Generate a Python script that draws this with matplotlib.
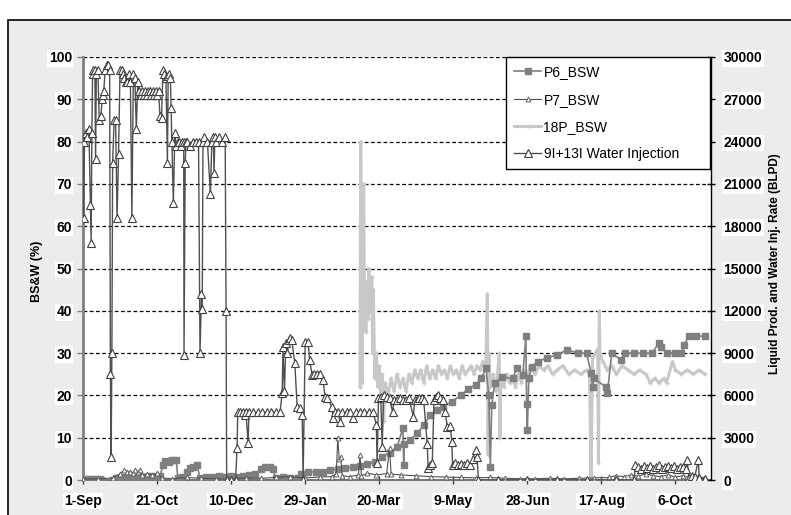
import numpy as np
import pandas as pd
import matplotlib
matplotlib.use("Agg")
import matplotlib.pyplot as plt
from matplotlib.patches import Rectangle
from matplotlib.ticker import FuncFormatter

plt.rcParams['font.family'] = ['Liberation Sans', 'DejaVu Sans']
plt.rcParams['font.weight'] = 'bold'

# Data (day offsets from 1-Sep)
start = pd.Timestamp('2008-09-01')
tick_days = [0, 50, 100, 150, 200, 250, 300, 350, 400]

p6_day = [0, 3, 6, 9, 11.5, 12, 20, 22, 26, 30, 34, 38, 42, 46, 50, 52, 54, 55.5, 58, 60, 63, 64,
          67, 70, 72, 74, 77, 79, 83, 88, 92, 96, 100, 104, 108, 112, 116, 120, 123, 126, 128, 130,
          135, 140, 145, 147, 152, 157, 162, 167, 172, 177, 182, 187, 192, 197, 202, 207, 212, 216,
          216.5, 217, 221, 225.7, 230, 234.5, 239, 243, 249, 255, 260, 265, 269, 272, 274, 275, 276,
          278, 283, 290, 293, 297, 299, 299.5, 300, 301, 303, 307, 313, 320, 327, 334, 340, 343, 344,
          345, 353, 354, 357, 363, 366, 372, 378, 384, 389, 390, 394, 400, 404, 406, 409, 414, 420]
p6_bsw = [0.3, 0.2, 0.3, 0.3, 0.3, 0, 0, 0.5, 0.6, 0.8, 0.6, 0.9, 0.7, 1, 0.8, 1, 3.5, 4.5, 4.2, 4.8, 4.7, 0.5,
          0.8, 2, 2.8, 3, 3.5, 0.5, 0.8, 0.6, 0.9, 0.7, 1, 0.8, 1, 1.3, 1.5, 2.5, 3, 3, 2.6, 0.5,
          0.6, 0.4, 0.5, 1.5, 1.8, 2, 1.8, 2.4, 2.5, 2.8, 3, 3.2, 3.8, 4.2, 5.5, 6.5, 7.8, 12.3,
          3.5, 8.5, 9.5, 11, 13, 15.4, 16.5, 17.3, 18.5, 20, 21.5, 22.5, 24, 26.5, 20, 3, 17.7,
          23, 24.4, 24, 26.5, 24.8, 34, 18, 11.8, 24, 26.8, 28, 28.8, 29.6, 30.8, 30, 30, 25.3, 22,
          24, 22, 20.5, 30, 28.4, 30, 30, 30, 30, 32.4, 31.5, 30, 30, 30, 32, 34, 34, 34]

p7_day = [0, 10, 20, 25, 28, 30, 32, 34, 35, 37, 38.5, 40, 43, 46.6, 50, 53, 60, 70, 80, 90, 100, 110,
          120, 130, 140, 150, 160, 168, 171, 172, 173, 174, 175, 180, 186, 187, 188, 192, 198, 205,
          207, 208, 215, 225, 235, 245, 255, 265, 275, 285, 295, 305, 315, 325, 335, 345, 355, 360,
          365, 370, 375, 380, 385, 390, 395, 400, 405, 410, 415, 420]
p7_bsw = [0.3, 0.2, 0.5, 1.5, 2.4, 1.8, 2, 1.6, 2.4, 1.9, 2.4, 1.2, 1.5, 1.2, 1.6, 0.5, 0.3, 0.6, 0.4, 0.3, 0.2, 0.5,
          0.4, 0.6, 0.8, 0.5, 0.7, 0.8, 1.5, 10, 5, 5.4, 1, 0.8, 1.2, 6, 1, 1.6, 1.2, 1.5,
          7.6, 1.4, 1.2, 1, 0.8, 0.7, 0.6, 0.5, 0.6, 0.4, 0.3, 0.3, 0.4, 0.3, 0.4, 0.5, 0.6, 1,
          0.8, 1.2, 0.9, 1.5, 1, 0.8, 1.2, 0.7, 1, 0.6, 0.8, 0.5]

p18_day = [187, 187.5, 188, 188.5, 189.5, 190, 191, 192, 192.5, 193, 194, 195, 195.5, 196, 197, 198, 199,
           200, 201, 202, 203, 204, 206, 208, 210, 212, 214, 216, 218, 220, 222, 224, 226, 228, 230,
           232, 234, 236, 238, 240, 242, 244, 246, 248, 250, 252, 254, 256, 258, 260, 262, 264, 266,
           268, 270, 272, 273, 273.5, 274, 275, 277, 279, 281, 281.5, 282, 284, 286, 288, 290, 292,
           294, 296, 298, 300, 302, 305, 308, 311, 314, 317, 320, 324, 328, 332, 336, 340, 342, 343,
           344, 346, 347.5, 348, 348.6, 349, 351, 354, 357, 360, 364, 368, 372, 376, 380, 383, 386,
           389, 392, 394, 398, 400, 404, 408, 412, 416, 420]
p18_bsw = [22, 80, 50, 23, 70, 45, 35, 47, 38, 50, 40, 48, 30, 45, 24, 30, 22,
           27, 20, 25, 14, 23, 20, 24, 21, 25, 22, 24, 21, 25, 23, 26, 24, 26, 23,
           27, 24, 26, 24, 27, 25, 26, 24, 27, 25, 26, 24, 27, 25, 26, 27, 25, 27,
           26, 28, 27, 44, 6, 30, 22, 25, 21, 30, 10, 24, 22, 25, 23, 24, 22,
           25, 23, 26, 24, 27, 25, 27, 26, 27, 25, 26, 27, 25, 26, 25, 26, 25, 0,
           29, 30, 31, 4, 40, 30, 28, 26, 27, 25, 27, 26, 25, 26, 25, 23, 24,
           23, 24, 23, 28, 26, 25, 26, 25, 26, 25]

wi_day = [0, 0.5, 1, 2, 3, 4, 5, 5.5, 6, 6.5, 7, 8, 8.5, 9, 10, 11, 12, 13, 13.5, 14, 15, 16, 17, 18,
          18.5, 19, 19.5, 20, 21, 22, 23, 24, 25, 26, 27, 28, 29, 30, 31, 32, 33, 34, 35, 36, 37, 38,
          39, 40, 41, 42, 43, 44, 45, 46, 47, 48, 49, 50, 51, 52, 53, 54, 55, 56, 57, 57.5, 58, 59,
          59.5, 60, 61, 62, 63, 64, 65, 66, 67, 68, 68.2, 69, 69.5, 70, 72, 74, 76, 78, 79, 80, 80.5,
          81, 82, 84, 86, 87, 88, 88.5, 89, 90, 92, 94, 96, 96.6, 97, 100, 103, 104, 104.5, 106, 108,
          109.5, 110, 111.5, 112, 115, 118, 121, 124, 127, 130, 133, 134.5, 135, 136, 137, 138, 139,
          140, 141, 143, 144.6, 146.6, 148, 148.6, 150, 152, 153, 154.7, 156, 158, 160, 162, 163.5,
          165, 168, 169, 170, 172, 173.6, 175, 178, 180, 182.5, 184, 187, 190, 193, 196, 198, 198.6,
          199.5, 201, 202, 203, 205, 207, 209, 210, 212, 214, 216, 218, 220, 223, 224, 225.6, 227,
          229, 230, 232.4, 233, 234, 235.8, 237, 238, 240, 241, 243, 244.6, 246, 248, 249, 249.5,
          251, 253, 255, 257, 259, 261.5, 263, 265, 266, 267, 280, 300, 320, 340, 360, 372, 373,
          375, 377, 379, 381, 383, 385, 387, 389, 391, 393, 395, 397, 399, 401, 403, 405, 407, 408,
          409, 411, 413, 415.5, 416, 420]
wi_blpd = [24000, 18600, 24000, 24600, 24300, 24900, 19500, 16800, 24600, 29100, 28800, 29100, 22800, 28800,
           29100, 25500, 25800, 27000, 27300, 27600, 29100, 29400, 29400, 29100,
           7500, 1650, 9000, 22500, 25500, 25500, 18600, 23100, 29100, 29100, 28800, 28500, 28200, 28200,
           28800, 28200, 18600, 28800, 28500, 24900, 28200, 27600,
           27300, 27600, 27300, 27600, 27300, 27600, 27600, 27300, 27600, 27300, 27600, 27300, 27600,
           25800, 25650, 29100, 28800, 28500, 22500, 28650, 28800, 28500,
           26400, 24000, 19650, 24600, 23700, 24000, 24000, 23700, 24000, 24000, 8850, 22500, 24000,
           24000, 23700, 24000, 24000, 24000, 9000, 13200, 12150,
           24000, 24300, 24000, 20250, 24000, 24300, 21750, 24300, 24000, 24300, 24000, 24300, 12000,
           0, 0, 0, 2250, 4800, 4800, 4800,
           4590, 4800, 2610, 4800, 4800, 4800, 4800, 4800, 4800, 4800, 4800, 6150, 9450, 6300, 9750,
           9000, 9900,
           10050, 9900, 8280, 5190, 5100, 4590, 0, 9780, 9780, 8520, 7440, 7500, 7500, 7500, 7080, 5880,
           5820, 5190, 4380, 4800, 4800, 4140, 4800, 4800, 4800, 4380, 4800, 4800, 4800, 4800, 4800,
           3900, 1200,
           5820, 5880, 2340, 6000, 5880, 5820, 4800, 5700, 5700, 5850, 5700, 5700, 5850, 4500, 5700,
           5700, 5850,
           5820, 5700, 2550, 840, 1050, 1200, 5700, 5880, 6000, 5850, 5700, 4800, 3750, 3810, 2700,
           1050,
           1200, 1050, 1140, 1050, 1200, 1050, 1500, 2100, 1620, 0, 0, 0, 0, 0, 0, 0, 1050,
           900, 750, 960, 840, 1020, 810, 930, 1050, 780, 900, 990, 840, 960, 780, 900, 930, 750, 1410,
           150, 300, 240, 1410, 150, 90]


def to_dates(days):
    return start + pd.to_timedelta(np.array(days, dtype=float), unit='D')


fig = plt.figure(figsize=(7.91, 5.15), dpi=100)
fig.patch.set_facecolor('white')
fig.patches.append(Rectangle((8 / 791, -0.01), 1.0, 1.01 - 20 / 515, transform=fig.transFigure,
                             facecolor='#ececec', edgecolor='black', lw=1.2, zorder=-10))

ax = fig.add_axes([83 / 791, 35 / 515, 628 / 791, 423 / 515])
ax.set_facecolor('white')

l18, = ax.plot(to_dates(p18_day), p18_bsw, color='#c8c8c8', lw=2.2, marker='+', ms=3,
               label='18P_BSW', zorder=2)
l6, = ax.plot(to_dates(p6_day), p6_bsw, color='#7f7f7f', lw=1.2, marker='s', ms=5,
              mec='#7f7f7f', mfc='#7f7f7f', label='P6_BSW', zorder=3)
l7, = ax.plot(to_dates(p7_day), p7_bsw, color='#505050', lw=0.8, marker='^', ms=3.5,
              mfc='white', mec='#606060', mew=0.7, label='P7_BSW', zorder=4)

ax.set_ylim(0, 100)
ax.set_xlim(start, start + pd.Timedelta(days=424))
ax.set_yticks(range(0, 101, 10))
ax.set_xticks(to_dates(tick_days))
ax.xaxis.set_major_formatter(FuncFormatter(
    lambda v, pos: (lambda d: f"{d.day}-{d:%b}")(matplotlib.dates.num2date(v))))
ax.yaxis.grid(True, linestyle=(0, (3, 2)), color='black', lw=0.9)
ax.set_axisbelow(True)

ax2 = ax.twinx()
lw_, = ax2.plot(to_dates(wi_day), wi_blpd, color='#505050', lw=1, marker='^', ms=5.5,
                mfc='white', mec='#404040', mew=0.8, label='9I+13I Water Injection')
ax2.set_ylim(0, 30000)
ax2.set_yticks(range(0, 30001, 3000))

for s in ['top']:
    ax.spines[s].set_visible(False)
    ax2.spines[s].set_visible(False)
ax.spines['right'].set_visible(False)
ax2.spines['left'].set_visible(False)
ax2.spines['bottom'].set_visible(False)
ax.spines['left'].set_color('#808080')
ax.spines['left'].set_linewidth(2)
ax.spines['bottom'].set_color('#606060')
ax.spines['bottom'].set_linewidth(1.2)
ax2.spines['right'].set_color('black')
ax2.spines['right'].set_linewidth(1)

ax.tick_params(axis='y', direction='out', length=4, width=1, color='#808080', labelsize=10, pad=4)
ax.tick_params(axis='x', direction='inout', length=6, width=1, color='#404040', labelsize=10, pad=7)
ax2.tick_params(axis='y', direction='inout', length=6, width=1, color='black', labelsize=10, pad=6)

for lbl in ax.get_yticklabels() + ax.get_xticklabels() + ax2.get_yticklabels():
    lbl.set_fontweight('bold')
    lbl.set_bbox(dict(facecolor='white', edgecolor='none', pad=1))

fig.text(37 / 791, 1 - 271 / 515, 'BS&W (%)', rotation=90, ha='center', va='center',
         fontsize=9, fontweight='bold')
fig.text(775 / 791, 1 - 264 / 515, 'Liquid Prod. and Water Inj. Rate (BLPD)', rotation=90,
         ha='center', va='center', fontsize=8.5, fontweight='bold')

leg = ax2.legend([l6, l7, l18, lw_], ['P6_BSW', 'P7_BSW', '18P_BSW', '9I+13I Water Injection'],
                 loc='upper left', bbox_to_anchor=((506 - 83) / 628, 0, (710 - 506) / 628, 1.0),
                 mode='expand', borderaxespad=0, fancybox=False, framealpha=1,
                 edgecolor='black', prop={'weight': 'normal', 'size': 10},
                 handlelength=1.9, handletextpad=0.2, labelspacing=0.95, borderpad=0.6)
leg.get_frame().set_linewidth(1)

plt.savefig("out.png", dpi=100)
